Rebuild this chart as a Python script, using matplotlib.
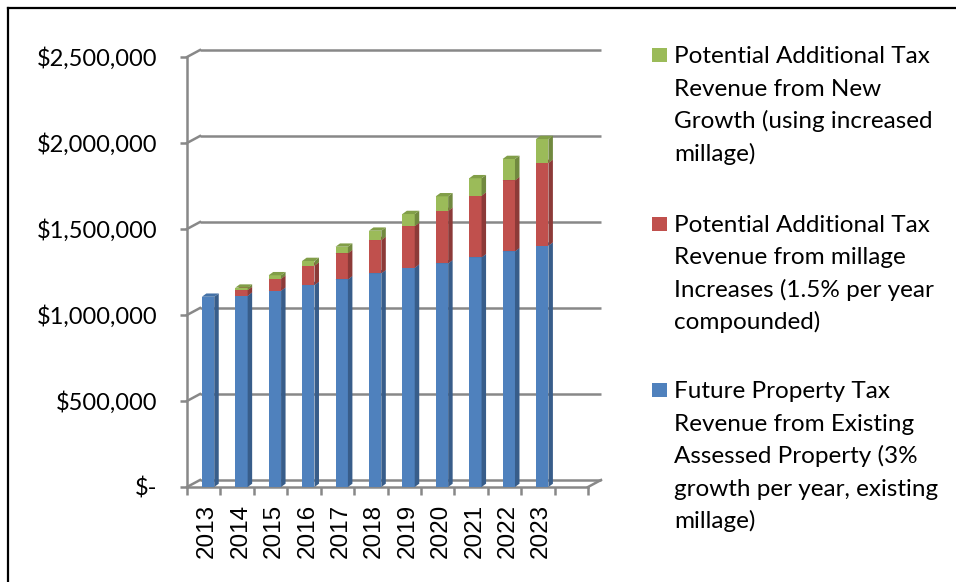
import matplotlib
matplotlib.use("Agg")
import matplotlib.pyplot as plt
from matplotlib.patches import Polygon, Rectangle
from matplotlib.lines import Line2D
import numpy as np

# data
years = ['2013', '2014', '2015', '2016', '2017', '2018',
         '2019', '2020', '2021', '2022', '2023']
existing = [1106000, 1112000, 1141000, 1174000, 1207000, 1242000,
            1275000, 1300000, 1335000, 1370000, 1403000]
millage = [0, 33000, 70000, 113000, 152000, 194000,
           242000, 305000, 359000, 413000, 481000]
growth = [0, 14000, 20000, 27000, 38000, 54000,
          70000, 85000, 101000, 124000, 139000]

ytick_vals = [0, 500000, 1000000, 1500000, 2000000, 2500000]
ytick_labels = ['$-', '$500,000', '$1,000,000', '$1,500,000', '$2,000,000', '$2,500,000']

legend_labels = [
    ['Potential Additional Tax', 'Revenue from New', 'Growth (using increased', 'millage)'],
    ['Potential Additional Tax', 'Revenue from millage', 'Increases (1.5% per year', 'compounded)'],
    ['Future Property Tax', 'Revenue from Existing', 'Assessed Property (3%', 'growth per year, existing', 'millage)'],
]

# front, side, top colours per series
styles = {
    'blue': ('#4F81BD', '#385D8A', '#4572A7'),
    'red': ('#C0504D', '#8C3A38', '#A44643'),
    'green': ('#9BBB59', '#71893F', '#819E48'),
}

W, H = 956, 582
fig = plt.figure(figsize=(W / 100, H / 100), dpi=100)


def fx(x):
    return x / W


def fy(y):
    return 1 - y / H


ax_l, ax_r, ax_t, ax_b = 187, 588, 57, 487
ax = fig.add_axes([fx(ax_l), fy(ax_b), (ax_r - ax_l) / W, (ax_b - ax_t) / H])
n_slots = 12
ax.set_xlim(-0.5, n_slots - 0.5)
ax.set_ylim(0, 2500000)
ax.patch.set_visible(False)

ux = (ax_r - ax_l) / n_slots          # pixels per category
uy = (ax_b - ax_t) / 2500000          # pixels per dollar

grid_col = '#888888'
grid_lw = 1.8

# back wall + left wall
wdx, wdy = 13 / ux, 7 / uy
x0, x1 = -0.5, n_slots - 0.5
for v in ytick_vals:
    ax.plot([x0 + wdx, x1 + wdx], [v + wdy, v + wdy], color=grid_col, lw=grid_lw,
            clip_on=False, zorder=1, solid_capstyle='butt')
    ax.plot([x0, x0 + wdx], [v, v + wdy], color=grid_col, lw=grid_lw,
            clip_on=False, zorder=1)
ax.plot([x1, x1 + wdx], [0, wdy], color=grid_col, lw=grid_lw, clip_on=False, zorder=1)

# 3d-ish stacked columns
x = np.arange(len(years)) + 0.13
bw = 0.37
bdx, bdy = 4.5 / ux, 3.3 / uy

bottom = np.zeros(len(years))
z = 3
for vals, key in [(existing, 'blue'), (millage, 'red'), (growth, 'green')]:
    front, side, top = styles[key]
    vals = np.array(vals, dtype=float)
    for xi, b, v in zip(x, bottom, vals):
        if v <= 0:
            continue
        xl, xr = xi - bw / 2, xi + bw / 2
        ax.bar(xi, v, bw, bottom=b, color=front, linewidth=0, zorder=z)
        ax.add_patch(Polygon([(xr, b), (xr + bdx, b + bdy), (xr + bdx, b + v + bdy), (xr, b + v)],
                             closed=True, facecolor=side, edgecolor='none', zorder=z, clip_on=False))
        ax.add_patch(Polygon([(xl, b + v), (xl + bdx, b + v + bdy), (xr + bdx, b + v + bdy), (xr, b + v)],
                             closed=True, facecolor=top, edgecolor='none', zorder=z, clip_on=False))
    bottom = bottom + vals
    z += 1

# axes lines / ticks
for s in ['top', 'right']:
    ax.spines[s].set_visible(False)
for s in ['left', 'bottom']:
    ax.spines[s].set_color(grid_col)
    ax.spines[s].set_linewidth(grid_lw)
    ax.spines[s].set_zorder(2)

ax.set_yticks(ytick_vals)
ax.set_yticklabels(ytick_labels, fontsize=17, fontfamily='Lato')
ax.tick_params(axis='y', length=5, width=grid_lw, color=grid_col, pad=16)

ax.set_xticks(np.arange(len(years)) + 0.1)
ax.set_xticklabels(years, rotation=90, fontsize=17.5, fontfamily='Liberation Sans')
ax.set_xticks(np.arange(n_slots + 1) - 0.5, minor=True)
ax.tick_params(axis='x', which='major', length=0, pad=12)
ax.tick_params(axis='x', which='minor', length=6, width=grid_lw, color=grid_col)

# legend drawn by hand (wrapped like the original)
legend_colors = [styles['green'][0], styles['red'][0], styles['blue'][0]]
first_baselines = [63.3, 231.7, 398.3]
line_step = 32.5
for lines, col, base in zip(legend_labels, legend_colors, first_baselines):
    fig.patches.append(Rectangle((fx(652), fy(base - 1)), 15 / W, 14 / H,
                                 transform=fig.transFigure, facecolor=col, edgecolor='none'))
    for k, line in enumerate(lines):
        fig.text(fx(674), fy(base + k * line_step), line, fontsize=17.5,
                 fontfamily='Lato', va='baseline', ha='left')

# outer frame
fig.add_artist(Line2D([fx(8), fx(8)], [fy(8), 0], color='black', lw=1.6, transform=fig.transFigure))
fig.add_artist(Line2D([fx(8), 1], [fy(8), fy(8)], color='black', lw=1.6, transform=fig.transFigure))

fig.savefig('out.png', dpi=100)
